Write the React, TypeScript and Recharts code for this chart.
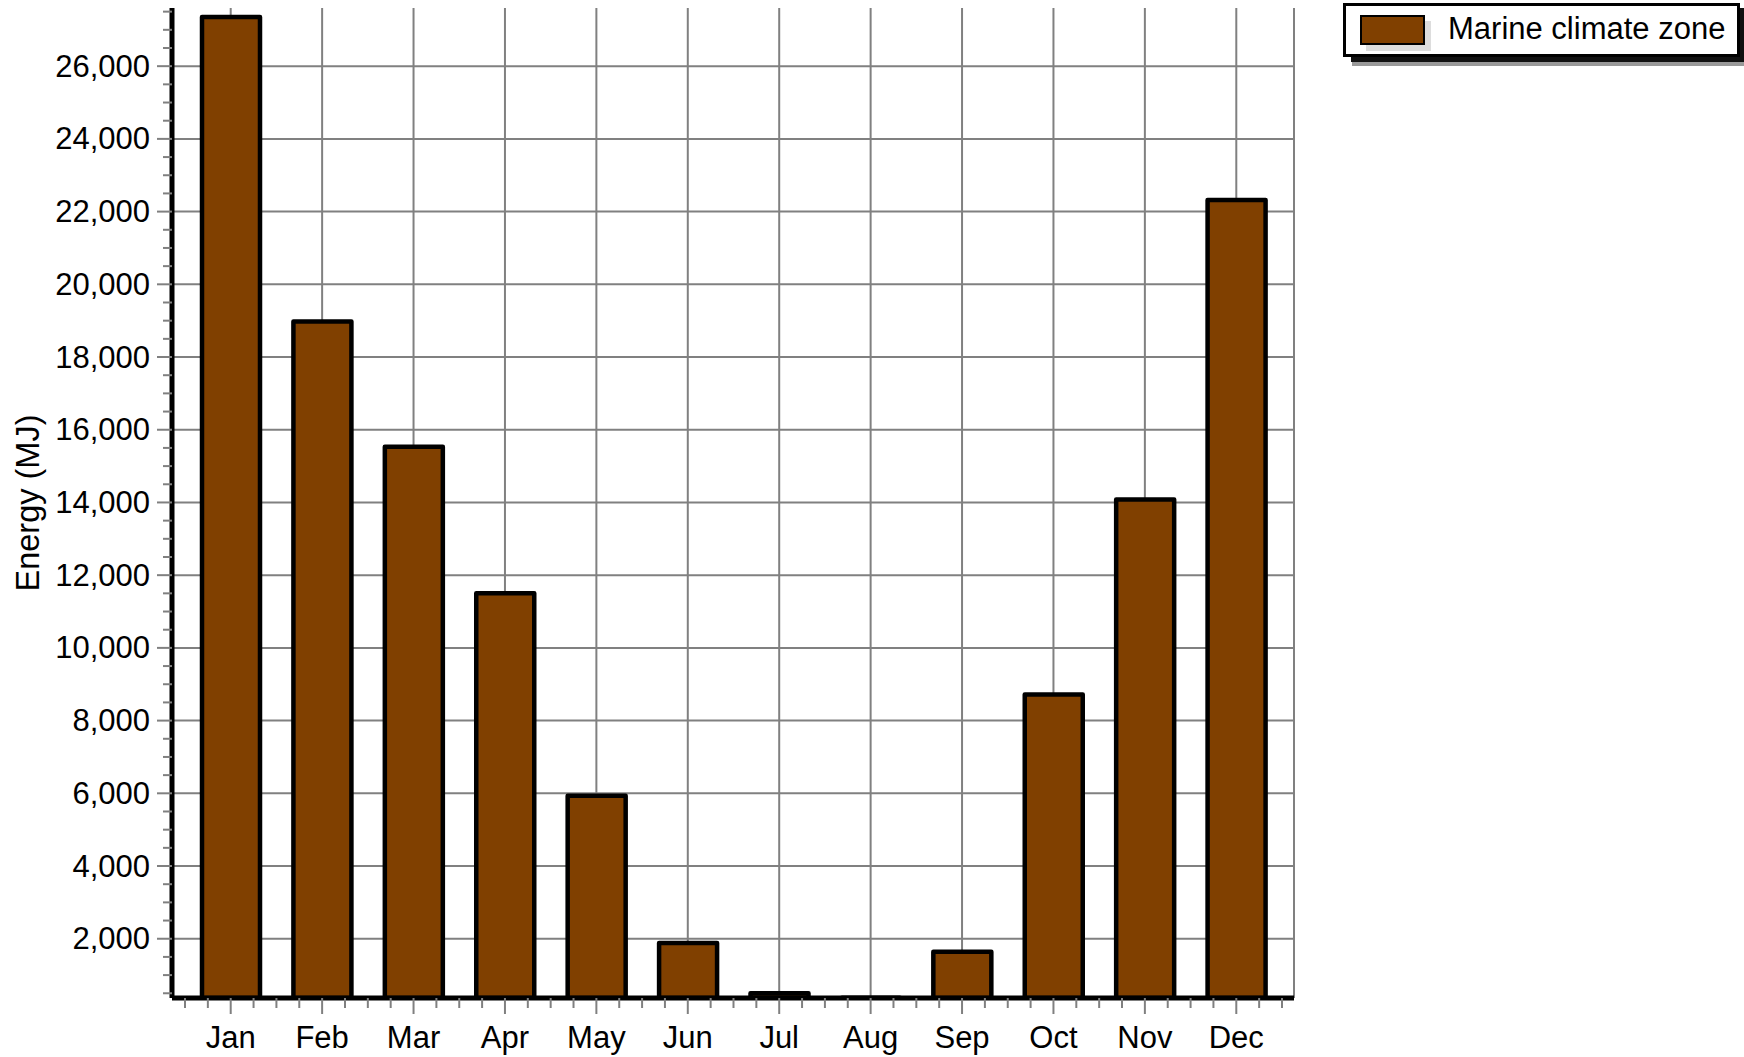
/**
 * EnergyChart Component
 * Monthly heating energy for the marine climate zone
 */

import React from 'react';
import {
  BarChart,
  Bar,
  XAxis,
  YAxis,
  CartesianGrid,
  Legend,
} from 'recharts';

const months = ['Jan', 'Feb', 'Mar', 'Apr', 'May', 'Jun', 'Jul', 'Aug', 'Sep', 'Oct', 'Nov', 'Dec'];
const energy = [27350, 18980, 15530, 11500, 5930, 1885, 500, 380, 1640, 8720, 14080, 22320];
const yMajorTicks = [2000, 4000, 6000, 8000, 10000, 12000, 14000, 16000, 18000, 20000, 22000, 24000, 26000];
const yDomain = [370, 27600];
const yMinorStep = 500;

const seriesName = 'Marine climate zone';
const barColor = '#804000';
const gridColor = '#808080';
const font = "'Liberation Sans', Arial, sans-serif";

const yTicks: number[] = [];
for (let v = yMinorStep; v < yDomain[1]; v += yMinorStep) yTicks.push(v);

const data = months.map((month, i) => ({ month, energy: energy[i] }));

// layout
const W = 1744;
const H = 1057;
const M = { top: 8, right: 450, bottom: 0, left: 0 };
const Y_AXIS_W = 172;
const X_AXIS_H = 59;
const PAD = { left: 13, right: 12 };
const bandW = (W - M.right - Y_AXIS_W - PAD.left - PAD.right) / months.length;

function YTick({ x, y, payload }: any) {
  const major = yMajorTicks.includes(payload.value);
  return (
    <g>
      <line x1={x - (major ? 15 : 9)} x2={x} y1={y} y2={y} stroke={gridColor} strokeWidth={2} />
      {major && (
        <text
          x={x - 22}
          y={y}
          textAnchor="end"
          dominantBaseline="central"
          fontSize={31}
          fontFamily={font}
          fill="#000"
        >
          {payload.value.toLocaleString('en-US')}
        </text>
      )}
    </g>
  );
}

function XTick({ x, y, payload, index }: any) {
  const minors = [x - bandW / 2, x - bandW / 4, x + bandW / 4];
  if (index === months.length - 1) minors.push(x + bandW / 2);
  return (
    <g>
      <line x1={x} x2={x} y1={y} y2={y + 16} stroke={gridColor} strokeWidth={2} />
      {minors.map((mx, i) => (
        <line key={i} x1={mx} x2={mx} y1={y} y2={y + 10} stroke={gridColor} strokeWidth={2} />
      ))}
      <text x={x} y={y + 50} textAnchor="middle" fontSize={31} fontFamily={font} fill="#000">
        {payload.value}
      </text>
    </g>
  );
}

function YLabel({ viewBox }: any) {
  const cx = viewBox.x + 28;
  const cy = viewBox.y + viewBox.height / 2;
  return (
    <text
      x={cx}
      y={cy}
      transform={`rotate(-90 ${cx} ${cy})`}
      textAnchor="middle"
      dominantBaseline="central"
      fontSize={32.5}
      fontFamily={font}
      fill="#000"
    >
      Energy (MJ)
    </text>
  );
}

function LegendBox({ payload }: any) {
  const item = payload && payload[0];
  return (
    <div
      style={{
        width: 391,
        height: 48,
        border: '3px solid #000',
        background: '#fff',
        boxShadow: '8px 5px 0 #111, 9px 9px 0 #999',
        position: 'relative',
        fontFamily: font,
      }}
    >
      <div
        style={{
          position: 'absolute',
          left: 14,
          top: 9,
          width: 61,
          height: 26,
          background: barColor,
          border: '2px solid #000',
          boxShadow: '6px 6px 0 #ddd',
        }}
      />
      <span
        style={{
          position: 'absolute',
          left: 102,
          top: 4,
          fontSize: 31,
          lineHeight: '38px',
          color: '#000',
          whiteSpace: 'nowrap',
        }}
      >
        {item ? item.value : seriesName}
      </span>
    </div>
  );
}

export default function App() {
  return (
    <div style={{ position: 'absolute', left: 0, top: 0, width: W, height: H, background: '#fff' }}>
      <BarChart width={W} height={H} data={data} margin={M}>
        <CartesianGrid stroke={gridColor} strokeWidth={2} horizontalValues={yMajorTicks} />
        <XAxis
          dataKey="month"
          height={X_AXIS_H}
          padding={PAD}
          interval={0}
          tickSize={0}
          tickMargin={0}
          tickLine={false}
          axisLine={{ stroke: '#000', strokeWidth: 5 }}
          tick={<XTick />}
        />
        <XAxis
          xAxisId="top"
          orientation="top"
          dataKey="month"
          height={0}
          padding={PAD}
          tick={false}
          tickLine={false}
          axisLine={{ stroke: '#000', strokeWidth: 3 }}
        />
        <YAxis
          width={Y_AXIS_W}
          domain={yDomain}
          allowDataOverflow
          ticks={yTicks}
          interval={0}
          tickSize={0}
          tickMargin={0}
          tickLine={false}
          axisLine={{ stroke: '#000', strokeWidth: 5 }}
          tick={<YTick />}
          label={<YLabel />}
        />
        <YAxis
          yAxisId="right"
          orientation="right"
          width={0}
          domain={yDomain}
          tick={false}
          tickLine={false}
          axisLine={{ stroke: '#000', strokeWidth: 2.5 }}
        />
        <Legend
          layout="horizontal"
          align="center"
          verticalAlign="middle"
          wrapperStyle={{ position: 'absolute', left: 1343, top: 3, width: 397, height: 54 }}
          content={<LegendBox />}
        />
        <Bar
          dataKey="energy"
          name={seriesName}
          fill={barColor}
          stroke="#000"
          strokeWidth={4.5}
          strokeLinejoin="round"
          barSize={58}
          isAnimationActive={false}
        />
      </BarChart>
    </div>
  );
}
